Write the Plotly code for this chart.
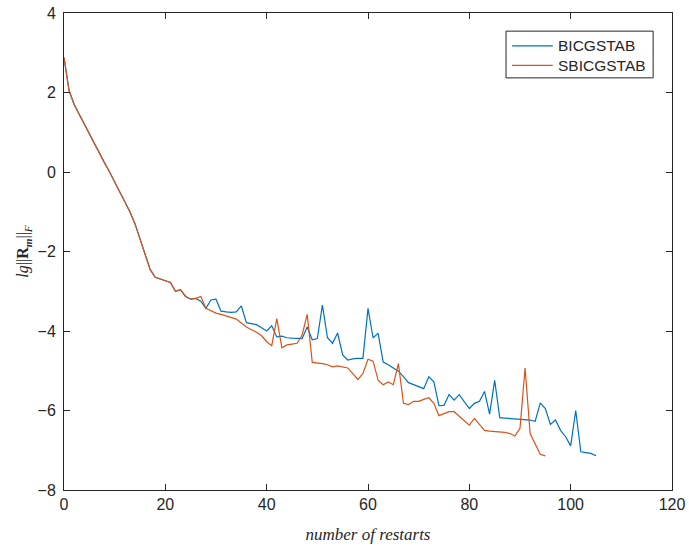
import plotly.graph_objects as go

# Residual history: lg ||R_m||_F versus number of restarts
restarts_sbicg = list(range(0, 96))
sbicgstab = [
    2.88, 2.05, 1.70, 1.45, 1.20, 0.95, 0.70, 0.47, 0.23, 0.00,
    -0.25, -0.50, -0.75, -1.00, -1.30, -1.70, -2.10, -2.45, -2.65, -2.70,
    -2.73, -2.78, -3.00, -2.96, -3.13, -3.20, -3.18, -3.13, -3.43, -3.50,
    -3.55, -3.58, -3.62, -3.66, -3.70, -3.80, -3.90, -3.97, -4.03, -4.12,
    -4.27, -4.37, -3.69, -4.42, -4.35, -4.33, -4.31, -4.10, -3.58, -4.79,
    -4.80, -4.82, -4.85, -4.90, -4.88, -4.90, -4.93, -5.07, -5.22, -5.07,
    -4.71, -4.76, -5.24, -5.35, -5.28, -5.35, -4.82, -5.82, -5.85, -5.77,
    -5.77, -5.72, -5.68, -5.82, -6.13, -6.08, -6.03, -6.03, -6.15, -6.25,
    -6.37, -6.20, -6.35, -6.50, -6.52, -6.53, -6.54, -6.55, -6.58, -6.64,
    -6.45, -4.93, -6.58, -6.83, -7.10, -7.14,
]

restarts_bicg = list(range(0, 106))
bicgstab = sbicgstab[:27] + [
    -3.25, -3.43, -3.22, -3.20, -3.50, -3.52, -3.53, -3.52, -3.37, -3.79,
    -3.82, -3.84, -3.92, -4.00, -3.87, -4.15, -4.13, -4.17, -4.18, -4.19,
    -4.19, -3.90, -4.22, -4.19, -3.35, -4.17, -4.31, -4.05, -4.60, -4.73,
    -4.70, -4.69, -4.69, -3.43, -4.17, -4.06, -4.78, -4.85, -4.93, -5.01,
    -5.15, -5.30, -5.35, -5.40, -5.45, -5.15, -5.28, -5.88, -5.87, -5.60,
    -5.74, -5.60, -5.78, -5.95, -5.82, -5.77, -5.52, -6.09, -5.24, -6.18,
    -6.19, -6.20, -6.20, -6.21, -6.22, -6.24, -6.27, -5.81, -5.95, -6.35,
    -6.24, -6.50, -6.66, -6.89, -6.00, -7.04, -7.06, -7.08, -7.14,
]

series_names = ["BICGSTAB", "SBICGSTAB"]
x_ticks = [0, 20, 40, 60, 80, 100, 120]
y_ticks = [-8, -6, -4, -2, 0, 2, 4]

BLUE = "#0072BD"
ORANGE = "#D95319"
AXIS = "#262626"
SANS = "Liberation Sans, Arial, sans-serif"
SERIF = "Liberation Serif, Times New Roman, serif"

fig = go.Figure()
fig.add_trace(go.Scatter(x=restarts_bicg, y=bicgstab, mode="lines", name=series_names[0],
                         line=dict(color=BLUE, width=1.2), showlegend=False))
fig.add_trace(go.Scatter(x=restarts_sbicg, y=sbicgstab, mode="lines", name=series_names[1],
                         line=dict(color=ORANGE, width=1.2), showlegend=False))

axis_common = dict(
    showline=True, linecolor=AXIS, linewidth=1, mirror="ticks",
    ticks="inside", ticklen=6, tickcolor=AXIS, tickwidth=1,
    showgrid=False, zeroline=False, automargin=False,
    tickfont=dict(family=SANS, size=16, color=AXIS),
)

# MATLAB-style boxed legend in paper coordinates
box = dict(x0=0.727, x1=0.969, y0=0.864, y1=0.962)
legend_rows = [0.931, 0.890]
sample_x = (0.737, 0.804)
shapes = [dict(type="rect", xref="paper", yref="paper", **box,
               line=dict(color=AXIS, width=1), fillcolor="white", layer="above")]
annotations = []
for name, color, yrow in zip(series_names, [BLUE, ORANGE], legend_rows):
    shapes.append(dict(type="line", xref="paper", yref="paper",
                       x0=sample_x[0], x1=sample_x[1], y0=yrow, y1=yrow,
                       line=dict(color=color, width=1.2), layer="above"))
    annotations.append(dict(xref="paper", yref="paper", x=0.810, y=yrow,
                            xanchor="left", yanchor="middle", showarrow=False,
                            text=name, font=dict(family=SANS, size=15.5, color=AXIS)))

fig.update_layout(
    width=689, height=552,
    margin=dict(l=64, r=17, t=13, b=62),
    paper_bgcolor="white", plot_bgcolor="white",
    xaxis=dict(range=[0, 120], tickvals=x_ticks,
               title=dict(text="<i>number of restarts</i>", standoff=15,
                          font=dict(family=SERIF, size=17, color=AXIS)),
               **axis_common),
    yaxis=dict(range=[-8, 4], tickvals=y_ticks, ticklabelstandoff=4,
               title=dict(text="<i>lg</i>||<b>R</b><sub><b><i>m</i></b></sub>||<sub><i>F</i></sub>", standoff=4,
                          font=dict(family=SERIF, size=16, color=AXIS)),
               **axis_common),
    shapes=shapes,
    annotations=annotations,
    showlegend=False,
)

fig.write_html("out.html")
